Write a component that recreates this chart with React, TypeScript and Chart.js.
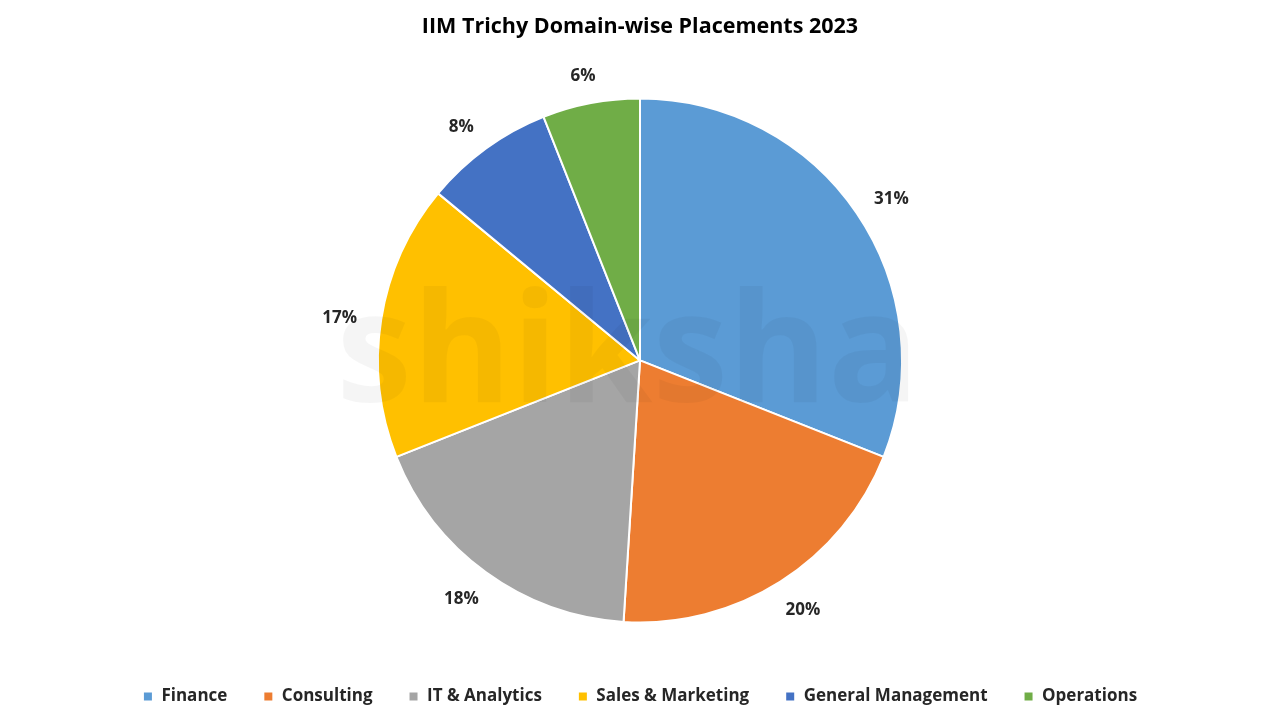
import React, { useEffect, useRef } from "react";
import { Chart, registerables } from "chart.js";

Chart.register(...registerables);

const categories = ["Finance", "Consulting", "IT & Analytics", "Sales & Marketing", "General Management", "Operations"];
const shares = [31, 20, 18, 17, 8, 6];
const colors = ["#5B9BD5", "#ED7D31", "#A5A5A5", "#FFC000", "#4472C4", "#70AD47"];
const titleText = "IIM Trichy Domain-wise Placements 2023";
const watermarkText = "shiksha";

const FONT = "'Open Sans', sans-serif";

export default function App() {
  const ref = useRef<HTMLCanvasElement | null>(null);

  useEffect(() => {
    document.body.style.margin = "0";
    if (!ref.current) return;

    const watermark = {
      id: "watermark",
      afterDatasetsDraw(chart: any) {
        const ctx = chart.ctx;
        ctx.save();
        ctx.font = `bold 152px ${FONT}`;
        ctx.fillStyle = "rgba(0,0,0,0.04)";
        ctx.textAlign = "center";
        ctx.textBaseline = "alphabetic";
        ctx.fillText(watermarkText, 628, 402);
        ctx.restore();
      },
    };

    const outLabels = {
      id: "outLabels",
      afterDatasetsDraw(chart: any) {
        const ctx = chart.ctx;
        const meta = chart.getDatasetMeta(0);
        ctx.save();
        ctx.font = `bold 17px ${FONT}`;
        ctx.fillStyle = "#262626";
        ctx.textAlign = "center";
        ctx.textBaseline = "middle";
        meta.data.forEach((arc: any, i: number) => {
          const p = arc.getProps(["startAngle", "endAngle", "outerRadius", "x", "y"], true);
          const mid = (p.startAngle + p.endAngle) / 2;
          const dx = Math.cos(mid);
          const dy = Math.sin(mid);
          const r = p.outerRadius + 20;
          const x = p.x + dx * r + dx * 22;
          const y = p.y + dy * r + dy * 10 + 3;
          ctx.fillText(shares[i] + "%", x, y);
        });
        ctx.restore();
      },
    };

    const chart = new Chart(ref.current, {
      type: "pie",
      data: {
        labels: categories,
        datasets: [
          {
            data: shares,
            backgroundColor: colors,
            borderColor: "#ffffff",
            borderWidth: 2,
            radius: 262,
          },
        ],
      },
      options: {
        animation: false,
        responsive: false,
        maintainAspectRatio: false,
        layout: { padding: { top: 0, bottom: 5, left: 0, right: 0 } },
        plugins: {
          title: {
            display: true,
            text: titleText,
            color: "#000000",
            font: { family: FONT, size: 21.5, weight: "bold" },
            padding: { top: 14, bottom: 29 },
          },
          legend: {
            display: true,
            position: "bottom",
            labels: {
              color: "#262626",
              font: { family: FONT, size: 17, weight: "bold" },
              boxWidth: 10,
              boxHeight: 10,
              padding: 36,
            },
          },
          tooltip: { enabled: false },
        },
      },
      plugins: [watermark, outLabels],
    });

    return () => chart.destroy();
  }, []);

  return (
    <div style={{ position: "absolute", left: 0, top: 0, width: 1280, height: 720, background: "#fff" }}>
      <canvas ref={ref} width={1280} height={720} style={{ width: 1280, height: 720 }} />
    </div>
  );
}
